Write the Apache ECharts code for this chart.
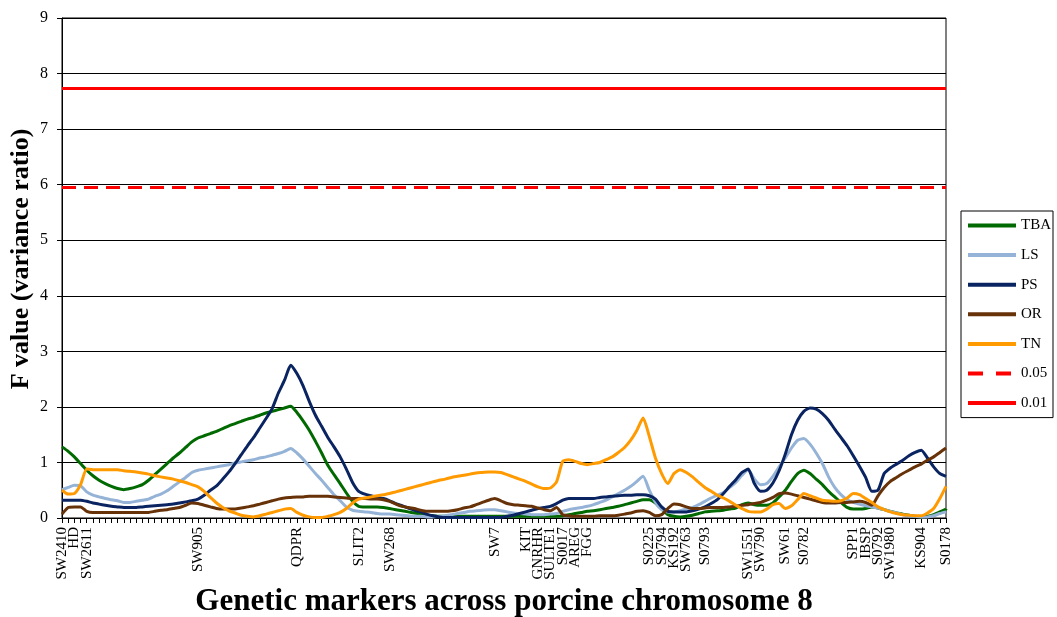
<!DOCTYPE html>
<html><head><meta charset="utf-8">
<script src="https://cdn.jsdelivr.net/npm/echarts@6/dist/echarts.min.js"></script>
<style>html,body{margin:0;padding:0;background:#fff}#c{width:1057px;height:617px}</style>
</head><body><div id="c"></div>
<script>
// Marker positions (category index) and names
const markerIdx = [0,2,4,22,38,48,53,70,75,77,79,81,83,85,95,97,99,101,104,111,113,117,120,128,130,132,134,139,143];
const markerNames = ['SW2410','HD','SW2611','SW905','QDPR','SLIT2','SW268','SW7','KIT','GNRHR','SULTE1','S0017','AREG','FGG','S0225','S0794','KS192','SW763','S0793','SW1551','SW790','SW61','S0782','SPP1','IBSP','S0792','SW1980','KS904','S0178'];
const nPos = 144;
const yTicks = [0,1,2,3,4,5,6,7,8,9];
const thr05 = 5.95;
const thr01 = 7.74;

const TBA = [1.28,1.2,1.1,0.98,0.86,0.76,0.68,0.62,0.57,0.53,0.51,0.53,0.56,0.6,0.68,0.78,0.88,0.98,1.08,1.17,
1.27,1.37,1.44,1.48,1.52,1.56,1.61,1.66,1.7,1.74,1.78,1.81,1.85,1.89,1.92,1.95,1.98,2.01,1.9,1.75,
1.58,1.38,1.17,0.95,0.78,0.62,0.45,0.3,0.21,0.2,0.2,0.2,0.19,0.17,0.15,0.13,0.11,0.09,0.07,0.05,
0.04,0.03,0.03,0.03,0.03,0.03,0.03,0.03,0.03,0.03,0.03,0.03,0.03,0.03,0.03,0.03,0.03,0.03,0.03,0.03,
0.03,0.04,0.06,0.08,0.1,0.12,0.13,0.15,0.17,0.19,0.21,0.24,0.27,0.3,0.33,0.33,0.27,0.16,0.06,0.03,
0.02,0.03,0.05,0.08,0.11,0.12,0.13,0.14,0.16,0.18,0.24,0.27,0.24,0.23,0.23,0.27,0.38,0.5,0.66,0.8,
0.86,0.8,0.7,0.6,0.48,0.38,0.28,0.19,0.16,0.16,0.17,0.2,0.18,0.15,0.12,0.09,0.07,0.05,0.03,0.02,
0.03,0.06,0.11,0.16];
const LS = [0.51,0.55,0.59,0.58,0.47,0.41,0.38,0.35,0.33,0.31,0.28,0.28,0.3,0.32,0.34,0.39,0.43,0.49,0.57,0.65,
0.73,0.82,0.86,0.88,0.9,0.92,0.94,0.96,0.99,1.01,1.03,1.05,1.08,1.1,1.13,1.16,1.2,1.25,1.17,1.06,
0.93,0.8,0.68,0.55,0.42,0.31,0.2,0.14,0.12,0.11,0.1,0.08,0.07,0.07,0.06,0.05,0.04,0.03,0.03,0.02,
0.02,0.03,0.04,0.06,0.08,0.1,0.12,0.13,0.14,0.15,0.15,0.13,0.11,0.09,0.08,0.07,0.06,0.06,0.06,0.07,
0.08,0.12,0.15,0.17,0.19,0.21,0.24,0.28,0.32,0.38,0.44,0.5,0.57,0.66,0.75,0.5,0.28,0.15,0.11,0.11,
0.13,0.16,0.19,0.24,0.3,0.36,0.41,0.46,0.55,0.64,0.77,0.87,0.7,0.6,0.62,0.75,0.92,1.08,1.26,1.4,
1.43,1.33,1.17,0.98,0.74,0.55,0.42,0.33,0.28,0.25,0.22,0.2,0.18,0.15,0.12,0.09,0.06,0.04,0.03,0.02,
0.02,0.04,0.08,0.11];
const PS = [0.32,0.32,0.32,0.32,0.3,0.27,0.25,0.23,0.21,0.2,0.19,0.19,0.19,0.2,0.21,0.22,0.23,0.24,0.25,0.27,
0.29,0.31,0.34,0.41,0.5,0.58,0.7,0.83,0.98,1.14,1.3,1.45,1.62,1.79,1.97,2.25,2.48,2.75,2.6,2.38,
2.1,1.85,1.65,1.45,1.28,1.1,0.88,0.64,0.48,0.43,0.4,0.37,0.35,0.31,0.26,0.22,0.18,0.14,0.11,0.07,
0.04,0.02,0.01,0.01,0.01,0.01,0.01,0.01,0.01,0.01,0.01,0.01,0.03,0.05,0.08,0.11,0.14,0.17,0.19,0.21,
0.26,0.32,0.35,0.35,0.35,0.35,0.35,0.37,0.38,0.39,0.4,0.41,0.41,0.42,0.42,0.4,0.34,0.2,0.12,0.11,
0.11,0.11,0.13,0.16,0.2,0.26,0.33,0.44,0.57,0.69,0.82,0.88,0.62,0.48,0.5,0.63,0.85,1.15,1.5,1.76,
1.92,1.98,1.96,1.88,1.76,1.6,1.45,1.3,1.12,0.93,0.73,0.48,0.5,0.8,0.9,0.97,1.04,1.12,1.18,1.22,
1.08,0.92,0.8,0.75];
const OR = [0.07,0.19,0.2,0.2,0.12,0.1,0.1,0.1,0.1,0.1,0.1,0.1,0.1,0.1,0.1,0.12,0.14,0.15,0.17,0.19,
0.23,0.27,0.26,0.23,0.2,0.17,0.16,0.16,0.16,0.18,0.2,0.22,0.25,0.28,0.31,0.34,0.36,0.37,0.38,0.38,
0.39,0.39,0.39,0.39,0.38,0.37,0.36,0.35,0.35,0.35,0.34,0.34,0.33,0.3,0.25,0.21,0.19,0.17,0.14,0.12,
0.12,0.12,0.12,0.13,0.15,0.18,0.2,0.24,0.28,0.32,0.35,0.31,0.26,0.24,0.23,0.22,0.21,0.18,0.15,0.13,
0.19,0.06,0.04,0.03,0.03,0.03,0.03,0.04,0.04,0.04,0.05,0.07,0.09,0.12,0.13,0.1,0.04,0.06,0.17,0.25,
0.24,0.2,0.17,0.17,0.18,0.19,0.19,0.19,0.2,0.21,0.23,0.24,0.26,0.28,0.32,0.37,0.44,0.45,0.43,0.4,
0.37,0.34,0.31,0.28,0.27,0.27,0.28,0.28,0.29,0.3,0.28,0.23,0.4,0.55,0.66,0.73,0.8,0.86,0.92,0.97,
1.04,1.1,1.18,1.26];
const TN = [0.5,0.43,0.44,0.6,0.88,0.87,0.87,0.87,0.87,0.87,0.85,0.84,0.83,0.81,0.79,0.76,0.74,0.72,0.7,0.67,
0.64,0.6,0.56,0.48,0.37,0.27,0.19,0.13,0.09,0.05,0.03,0.02,0.04,0.07,0.1,0.13,0.16,0.17,0.1,0.05,
0.02,0.01,0.01,0.03,0.06,0.1,0.17,0.27,0.34,0.36,0.38,0.4,0.42,0.44,0.47,0.5,0.53,0.56,0.59,0.62,
0.65,0.68,0.7,0.73,0.75,0.77,0.79,0.81,0.82,0.83,0.83,0.82,0.78,0.74,0.7,0.66,0.61,0.56,0.53,0.54,
0.65,1.02,1.05,1.02,0.98,0.96,0.98,1.0,1.05,1.1,1.18,1.27,1.4,1.58,1.8,1.47,1.08,0.8,0.62,0.8,
0.87,0.82,0.74,0.64,0.55,0.48,0.41,0.36,0.3,0.23,0.17,0.12,0.11,0.11,0.16,0.24,0.26,0.17,0.22,0.33,
0.44,0.4,0.36,0.32,0.31,0.3,0.31,0.36,0.44,0.42,0.35,0.28,0.2,0.15,0.11,0.08,0.06,0.05,0.04,0.04,
0.09,0.17,0.35,0.57];

const categories = [];
for (let i = 0; i < nPos; i++) {
  const k = markerIdx.indexOf(i);
  categories.push(k >= 0 ? markerNames[k] : ' ');
}

const FONT = '"Liberation Serif", "Times New Roman", serif';
const chart = echarts.init(document.getElementById('c'), null, {renderer: 'canvas'});

function lineSeries(name, data, color) {
  return {name, type: 'line', data, symbol: 'none', smooth: 0.2,
    lineStyle: {color, width: 3}, itemStyle: {color}, z: 3, animation: false};
}
function thrSeries(name, value, dashed) {
  return {name, type: 'line', data: [], symbol: 'none',
    lineStyle: {color: '#ff0000', width: 4, type: dashed ? [15, 13] : 'solid'}, itemStyle: {color: '#ff0000'},
    markLine: {silent: true, symbol: 'none', label: {show: false},
      lineStyle: {color: '#ff0000', width: 3, type: dashed ? [14, 8] : 'solid'},
      data: [{yAxis: value}]}, animation: false};
}

chart.setOption({
  animation: false,
  backgroundColor: '#fff',
  grid: {left: 62, right: 111, top: 18, bottom: 99, show: true, borderColor: '#000', borderWidth: 1,
    containLabel: false, outerBoundsMode: 'none'},
  legend: {
    orient: 'vertical', left: 961, top: 211,
    padding: [7, 2, 7, 5], itemGap: 14.6, itemWidth: 48, itemHeight: 14,
    borderColor: '#000', borderWidth: 1, backgroundColor: '#fff',
    itemStyle: {color: 'rgba(0,0,0,0)', borderWidth: 0, opacity: 0},
    lineStyle: {width: 4},
    textStyle: {fontFamily: FONT, fontSize: 15, lineHeight: 14, color: '#000', padding: [0, 0, 0, 0]},
    data: ['TBA', 'LS', 'PS', 'OR', 'TN', '0.05', '0.01']
  },
  xAxis: {
    type: 'category', data: categories, boundaryGap: false,
    name: 'Genetic markers across porcine chromosome 8', nameLocation: 'middle', nameGap: 68,
    nameMoveOverlap: false,
    nameTextStyle: {fontFamily: FONT, fontSize: 31, fontWeight: 'bold', color: '#000'},
    axisLine: {lineStyle: {color: '#000', width: 1}},
    axisTick: {show: true, interval: 0, length: 5, lineStyle: {color: '#000'}},
    axisLabel: {interval: 0, rotate: 90, fontFamily: FONT, fontSize: 15, color: '#000', margin: 9},
    splitLine: {show: false}
  },
  yAxis: {
    type: 'value', min: yTicks[0], max: yTicks[yTicks.length - 1], interval: 1,
    name: 'F value (variance ratio)', nameLocation: 'middle', nameGap: 28,
    nameMoveOverlap: false,
    nameTextStyle: {fontFamily: FONT, fontSize: 26, fontWeight: 'bold', color: '#000', padding: [0, 0, 0, 18]},
    axisLine: {show: true, lineStyle: {color: '#000'}},
    axisTick: {show: true, length: 5, lineStyle: {color: '#000'}},
    axisLabel: {fontFamily: FONT, fontSize: 16, color: '#000', margin: 14},
    splitLine: {lineStyle: {color: '#000', width: 1}}
  },
  series: [
    lineSeries('TBA', TBA, '#006a00'),
    lineSeries('LS', LS, '#95b3d7'),
    lineSeries('PS', PS, '#0a2461'),
    lineSeries('OR', OR, '#673208'),
    lineSeries('TN', TN, '#ff9a00'),
    thrSeries('0.05', thr05, true),
    thrSeries('0.01', thr01, false)
  ]
});
</script></body></html>
